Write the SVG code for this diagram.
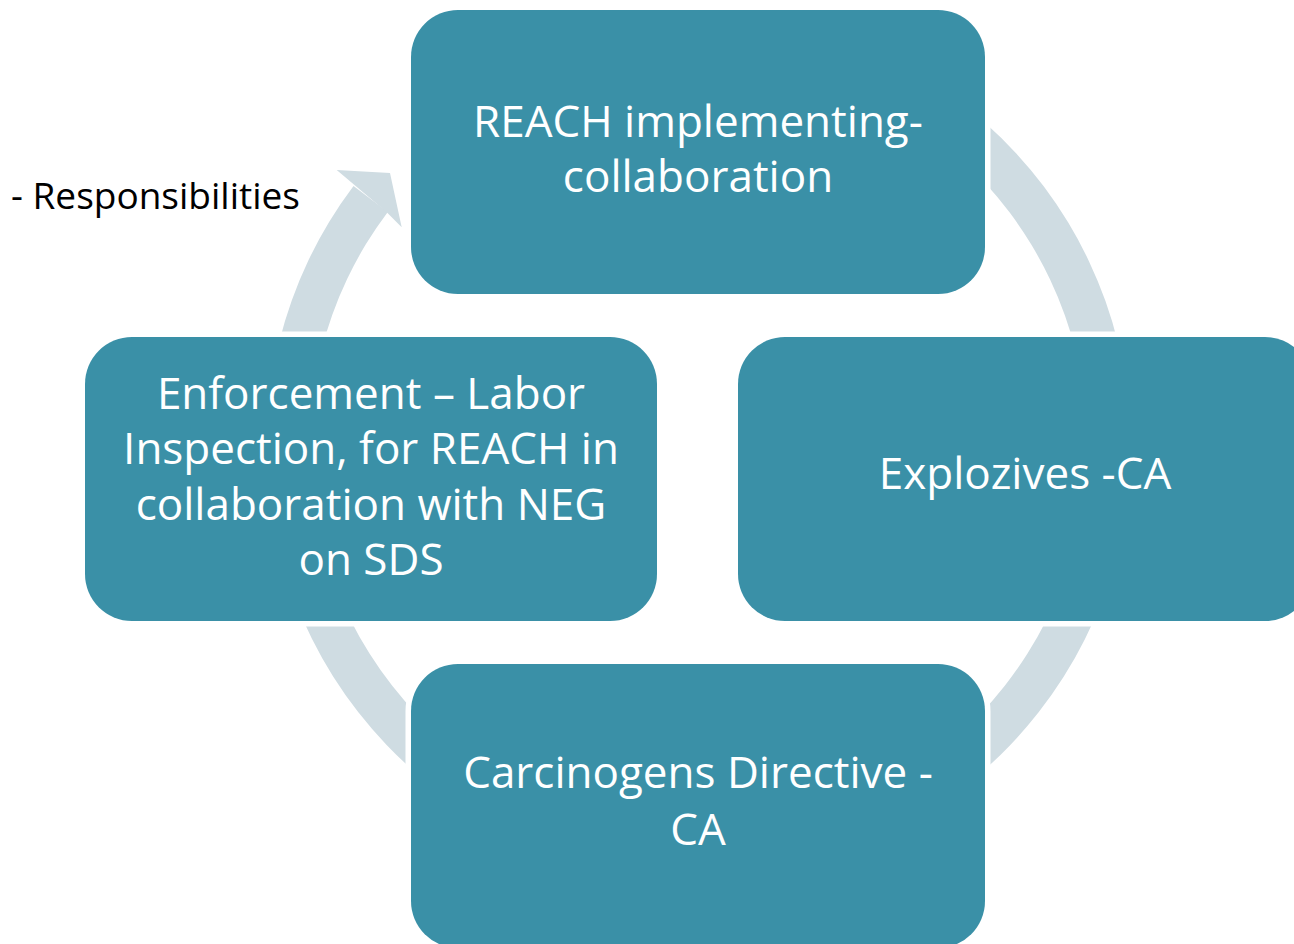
<svg xmlns="http://www.w3.org/2000/svg" width="1294" height="944" viewBox="0 0 1294 944">
<style>
.band{fill:#CFDCE2;}
.box{fill:#3A90A7;stroke:#FFFFFF;stroke-width:11;paint-order:stroke fill;}
.lbl{font-family:"Open Sans","Liberation Sans",sans-serif;font-size:44px;fill:#FFFFFF;text-anchor:middle;}
.note{font-family:"Open Sans","Liberation Sans",sans-serif;font-size:37px;fill:#000000;}
</style>
<rect width="1294" height="944" fill="#FFFFFF"/>
<g id="connectors">
<path class="band" d="M 353.5,186 A 432 432 0 1 0 914.5,71.9 L 893,109.1 A 389 389 0 1 1 387.8,211.9 Z"/>
<polygon class="band" points="354.5,185 336.7,170 390,173 401.7,227.3 386.5,212"/>
</g>
<g id="node-reach">
<rect class="box" x="411" y="10" width="574" height="284" rx="47" ry="47"/>
<text class="lbl" x="698" y="137">REACH implementing-</text>
<text class="lbl" x="698" y="192">collaboration</text>
</g>
<g id="node-enforcement">
<rect class="box" x="85" y="337" width="572" height="284" rx="47" ry="47"/>
<text class="lbl" x="371" y="409">Enforcement – Labor</text>
<text class="lbl" x="371" y="464">Inspection, for REACH in</text>
<text class="lbl" x="371" y="520">collaboration with NEG</text>
<text class="lbl" x="371" y="575">on SDS</text>
</g>
<g id="node-explozives">
<rect class="box" x="738" y="337" width="574" height="284" rx="47" ry="47"/>
<text class="lbl" x="1025" y="489">Explozives -CA</text>
</g>
<g id="node-carcinogens">
<rect class="box" x="411" y="664" width="574" height="284" rx="47" ry="47"/>
<text class="lbl" x="698" y="788">Carcinogens Directive -</text>
<text class="lbl" x="698" y="845">CA</text>
</g>
<g id="note">
<text class="note" x="11" y="209">- Responsibilities</text>
</g>
</svg>
